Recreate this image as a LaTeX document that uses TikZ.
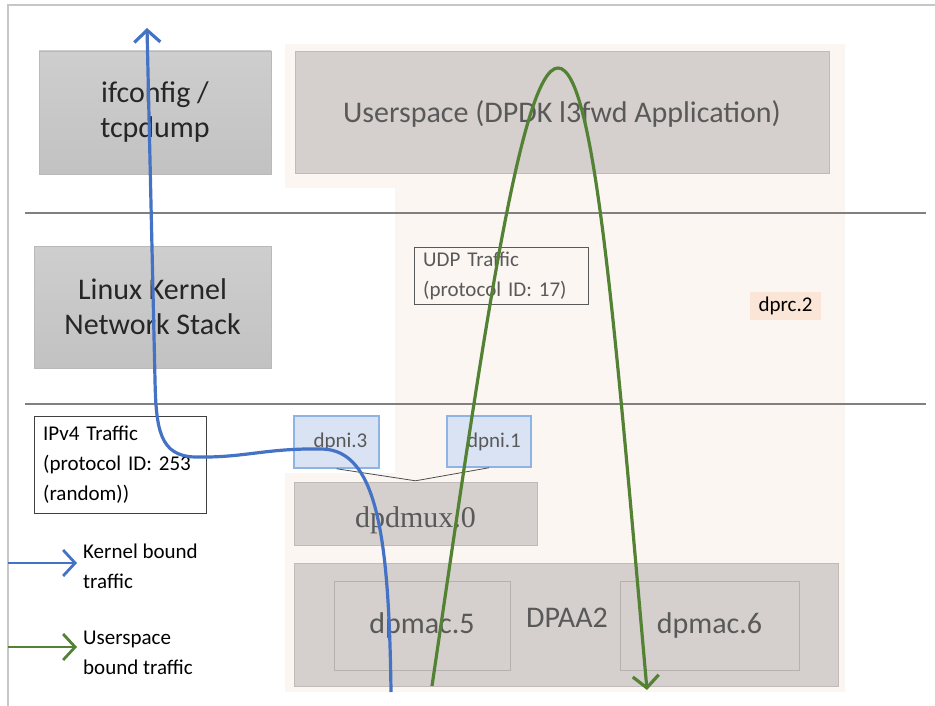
\documentclass[tikz,border=0pt]{standalone}
\usepackage{fontspec}
\setmainfont{Carlito}
\newfontfamily\dmuxfont{Liberation Serif}
\usetikzlibrary{arrows.meta}
\definecolor{appgray}{RGB}{213,208,205}
\definecolor{peach}{RGB}{252,246,242}
\definecolor{dprcfill}{RGB}{251,229,214}
\definecolor{dpnifill}{RGB}{218,227,243}
\definecolor{dpniline}{RGB}{141,180,226}
\definecolor{kblue}{RGB}{68,114,196}
\definecolor{ugreen}{RGB}{84,130,53}
\definecolor{txtgray}{RGB}{89,89,89}
\begin{document}
\begin{tikzpicture}[x=1pt, y=-1pt,
    bigfont/.style={font=\fontsize{30}{35}\selectfont},
    smallfont/.style={font=\fontsize{21}{30}\selectfont},
    hostbox/.style={draw=gray!55, top color={rgb,255:red,206;green,206;blue,206}, bottom color={rgb,255:red,194;green,194;blue,194}, bigfont, align=center, text=black!85, inner sep=0pt},
    appbox/.style={draw=appgray!90!black, fill=appgray, text=txtgray, inner sep=0pt},
    macbox/.style={draw=appgray!85!black, fill=appgray, text=txtgray, bigfont, inner sep=0pt},
    dpnibox/.style={draw=dpniline, line width=1.5pt, fill=dpnifill, text=txtgray, smallfont, inner sep=0pt},
    notebox/.style={draw=black!75, smallfont, align=left, anchor=north west, inner sep=0pt},
    traffic/.style={line width=3.2pt, -{Straight Barb[length=12pt,width=26pt]}}]
    \useasboundingbox (0,0) rectangle (935,706);
    \draw[gray!45, line width=1.5pt] (8,706) -- (8,5) -- (935,5);
    \fill[peach] (285,44) -- (845,44) -- (845,692) -- (285,692) -- (285,473) -- (395,473) -- (395,188) -- (285,188) -- cycle;
    \draw[gray, line width=1.3pt] (25,213) -- (926,213);
    \draw[gray, line width=1.3pt] (25,404) -- (926,404);
    \node[hostbox, minimum width=232pt, minimum height=123pt] (tools) at (155,112.5) {ifconfig /\\tcpdump};
    \node[hostbox, minimum width=237pt, minimum height=122pt] (kernel) at (152.5,307) {Linux Kernel\\Network Stack};
    \node[appbox, bigfont, minimum width=534pt, minimum height=122pt] (l3fwd) at (562,112) {};
    \node[text=txtgray, bigfont] (l3fwdtxt) at (562,114) {Userspace (DPDK l3fwd Application)};
    \node[notebox, draw=txtgray, text=txtgray, minimum width=174pt, minimum height=57pt, text width=156pt, inner xsep=9pt] (udp) at (414,247) {UDP Traffic\\(protocol ID: 17)};
    \node[fill=dprcfill, smallfont, minimum width=71pt, minimum height=28pt, inner sep=0pt] (dprc) at (785.5,306) {dprc.2};
    \node[notebox, minimum width=172pt, minimum height=97pt, text width=154pt, inner xsep=9pt] (ipv4) at (34,416) {IPv4 Traffic\\(protocol ID: 253\\(random))};
    \node[dpnibox, minimum width=85pt, minimum height=52pt] (dpni3) at (336.5,442) {\hspace{8pt}dpni.3};
    \node[dpnibox, minimum width=84pt, minimum height=51pt] (dpni1) at (489,441.5) {\hspace{10pt}dpni.1};
    \node[appbox, minimum width=243pt, minimum height=63pt] (dpdmux) at (415.5,513.5) {};
    \node[text=txtgray, font=\dmuxfont\fontsize{30}{35}\selectfont] (dpdmuxtxt) at (415.5,520) {dpdmux.0};
    \draw[black!70, line width=0.8pt] (dpni3.south) -- ([yshift=1pt]dpdmux.north) -- (dpni1.south);
    \node[appbox, minimum width=544pt, minimum height=123pt] (dpaa2) at (566,624.5) {};
    \node[text=txtgray, bigfont] (dpaa2txt) at (567,618) {DPAA2};
    \node[macbox, minimum width=176pt, minimum height=89pt] (dpmac5) at (422,625.5) {dpmac.5};
    \node[macbox, minimum width=179pt, minimum height=89pt] (dpmac6) at (709.5,625.5) {dpmac.6};
    \coordinate (kin) at (391,692);
    \coordinate (kout) at (147,28);
    \coordinate (uin) at (432,686);
    \coordinate (uout) at (647,690);
    \draw[traffic, kblue] (kin) .. controls (389,540) and (378,450) .. (322,449)
        .. controls (265,448) and (245,458) .. (195,457)
        .. controls (160,456) and (156,430) .. (155,380) -- (kout);
    \draw[traffic, ugreen] (uin) .. controls (480,360) and (520,68) .. (558,68)
        .. controls (595,68) and (615,330) .. (uout);
    \coordinate (kleg) at (8,563);
    \coordinate (uleg) at (8,647);
    \draw[traffic, kblue, line width=2.8pt] (kleg) -- ++(69,0);
    \draw[traffic, ugreen, line width=2.8pt] (uleg) -- ++(69,0);
    \node[smallfont, align=left, anchor=west, inner sep=0pt] (klabel) at (83,566.5) {Kernel bound\\traffic};
    \node[smallfont, align=left, anchor=west, inner sep=0pt] (ulabel) at (83,653) {Userspace\\bound traffic};
\end{tikzpicture}
\end{document}
